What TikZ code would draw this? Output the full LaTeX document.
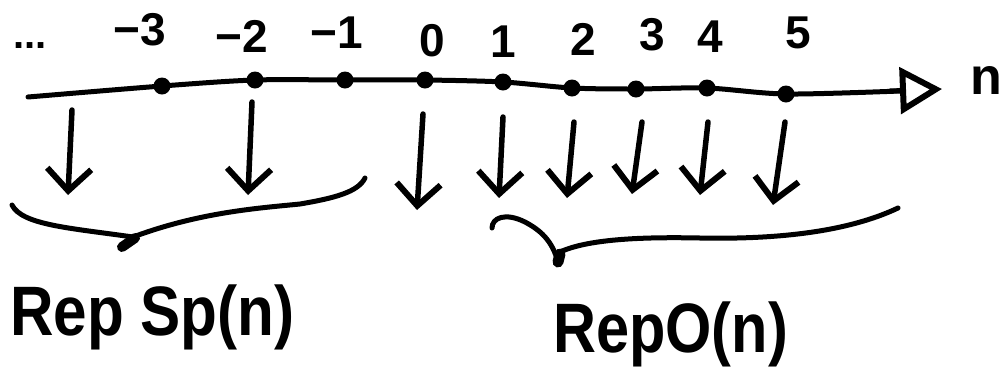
\documentclass[tikz,border=0pt]{standalone}
\usepackage{fontspec}
\setmainfont{Liberation Sans}
\usetikzlibrary{arrows.meta}
\begin{document}
\begin{tikzpicture}[x=1pt,y=-1pt,
  dot/.style={circle,fill=black,inner sep=0pt,minimum size=17pt},
  axis/.style={line width=5pt,line cap=round,line join=round},
  downarr/.style={line width=5.5pt,line cap=round,-{Straight Barb[length=22pt,width=44pt,line width=6pt]}},
  brace/.style={line width=5pt,line cap=round},
  numlab/.style={inner sep=0pt,font=\bfseries\fontsize{46}{48}\selectfont},
  biglab/.style={inner sep=0pt,anchor=base west}]
\useasboundingbox (0,0) rectangle (1008,373);
% axis points
\coordinate (s) at (28,97);
\node[dot] (m3) at (162,86) {};
\node[dot] (m2) at (255,80) {};
\node[dot] (m1) at (345,80) {};
\node[dot] (z0) at (425,80) {};
\node[dot] (p1) at (503,82) {};
\node[dot] (p2) at (572,88) {};
\node[dot] (p3) at (636,89) {};
\node[dot] (p4) at (707,88) {};
\node[dot] (p5) at (786,94) {};
\coordinate (e) at (942,89);
\draw[axis] plot[smooth,tension=0.5] coordinates {(s) (m3.center) (m2.center) (m1.center) (z0.center) (p1.center) (p2.center) (p3.center) (p4.center) (p5.center) (900,91)};
\draw[axis,-{Triangle[open,length=42pt,width=46pt,line width=6pt]}] (890,91) -- (e);
% labels
\node[inner sep=0pt,anchor=base,font=\bfseries\fontsize{40}{42}\selectfont] (dots) at (30,48) {...};
\node[numlab] (lm3) at (140,30) {−3};
\node[numlab] (lm2) at (242,36) {−2};
\node[numlab] (lm1) at (337,33) {−1};
\node[numlab] (l0) at (432,41) {0};
\node[numlab] (l1) at (503,42) {1};
\node[numlab] (l2) at (583,39) {2};
\node[numlab] (l3) at (652,35) {3};
\node[numlab] (l4) at (710,37) {4};
\node[numlab] (l5) at (798,33) {5};
\node[inner sep=0pt,font=\bfseries\fontsize{52}{54}\selectfont] (n) at (986,80) {n};
% down arrows
\coordinate (a1s) at (72,110);  \coordinate (a1e) at (68,195);
\coordinate (a2s) at (252,102); \coordinate (a2e) at (248,195);
\coordinate (a3s) at (423,114); \coordinate (a3e) at (417,210);
\coordinate (a4s) at (503,117); \coordinate (a4e) at (499,198);
\coordinate (a5s) at (574,122); \coordinate (a5e) at (567,198);
\coordinate (a6s) at (642,122); \coordinate (a6e) at (632,194);
\coordinate (a7s) at (708,122); \coordinate (a7e) at (700,195);
\coordinate (a8s) at (785,122); \coordinate (a8e) at (773,205);
\foreach \i in {1,...,8} \draw[downarr] (a\i s) -- (a\i e);
% braces
\coordinate (lb1) at (12,205);
\coordinate (lbt) at (123,245);
\coordinate (lb2) at (365,178);
\draw[brace] (lb1) .. controls (22,225) and (70,228) .. (133,237)
  .. controls (200,212) and (260,208) .. (300,204)
  .. controls (335,198) and (358,192) .. (lb2);
\draw[line width=10pt,line cap=round] (122,247) -- (135,238);
\coordinate (rb1) at (492,228);
\coordinate (rbt) at (558,262);
\coordinate (rb2) at (898,208);
\draw[brace] (rb1) .. controls (492,218) and (505,212) .. (525,222)
  .. controls (540,230) and (552,240) .. (rbt);
\draw[brace] (560,252) .. controls (590,238) and (650,237) .. (700,238)
  .. controls (800,240) and (860,226) .. (rb2);
\draw[line width=11pt,line cap=round] (rbt) -- (560,254);
% big labels
\node[biglab,xscale=0.86,font=\bfseries\fontsize{70}{72}\selectfont] (sp) at (10,335) {Rep Sp(n)};
\node[biglab,xscale=0.85,font=\bfseries\fontsize{70}{72}\selectfont] (so) at (553,352) {RepO(n)};
\end{tikzpicture}
\end{document}
